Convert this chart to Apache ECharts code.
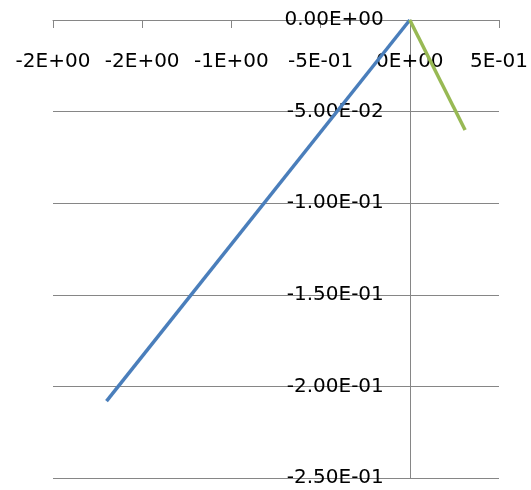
<!DOCTYPE html>
<html>
<head>
<meta charset="utf-8">
<script src="https://cdn.jsdelivr.net/npm/echarts@6/dist/echarts.min.js"></script>
<style>
html,body{margin:0;padding:0;background:#fff;}
#chart{width:531px;height:490px;}
</style>
</head>
<body>
<div id="chart"></div>
<script>
// Data
var blueSeries = [[0, 0], [-1.70, -0.208]];
var greenSeries = [[0, 0], [0.31, -0.060]];
var xMin = -2, xMax = 0.5, xStep = 0.5;
var yMin = -0.25, yMax = 0, yStep = 0.05;

function excelSci(v, digits) {
  if (Math.abs(v) < 1e-12) v = 0;
  var s = v.toExponential(digits);
  var parts = s.split('e');
  var mant = parts[0];
  var exp = parseInt(parts[1], 10);
  var sign = exp < 0 ? '-' : '+';
  var e = Math.abs(exp);
  return mant + 'E' + sign + (e < 10 ? '0' + e : '' + e);
}

var W = 531, gridLeft = 53, gridRight = 32;
var gridW = W - gridLeft - gridRight;
// y axis crosses the x axis at x = 0
var yAxisOffset = -((0 - xMin) / (xMax - xMin)) * gridW;

var chart = echarts.init(document.getElementById('chart'));
var font = 'DejaVu Sans';
chart.setOption({
  animation: false,
  backgroundColor: '#ffffff',
  grid: { left: gridLeft, right: gridRight, top: 20, bottom: 12, containLabel: false, outerBoundsMode: 'none' },
  xAxis: {
    type: 'value',
    position: 'top',
    min: xMin, max: xMax, interval: xStep,
    axisLine: { show: true, onZero: true, lineStyle: { color: '#868686', width: 1 } },
    axisTick: { show: true, inside: true, length: 8, lineStyle: { color: '#868686' } },
    axisLabel: {
      inside: true, margin: 32,
      color: '#000', fontFamily: font, fontSize: 20,
      formatter: function (v) { return excelSci(v, 0); }
    },
    splitLine: { show: false }
  },
  yAxis: {
    type: 'value',
    position: 'left',
    offset: yAxisOffset,
    min: yMin, max: yMax, interval: yStep,
    axisLine: { show: true, onZero: false, lineStyle: { color: '#868686', width: 1 } },
    axisTick: { show: false },
    axisLabel: {
      margin: 26,
      color: '#000', fontFamily: font, fontSize: 20,
      formatter: function (v) { return excelSci(v, 2); }
    },
    splitLine: { show: true, lineStyle: { color: '#868686', width: 1 } }
  },
  series: [
    { type: 'line', data: blueSeries, showSymbol: false, symbol: 'none',
      lineStyle: { color: '#4a7ebb', width: 3.5 }, z: 3 },
    { type: 'line', data: greenSeries, showSymbol: false, symbol: 'none',
      lineStyle: { color: '#98b954', width: 3.5 }, z: 4 }
  ]
});
</script>
</body>
</html>
